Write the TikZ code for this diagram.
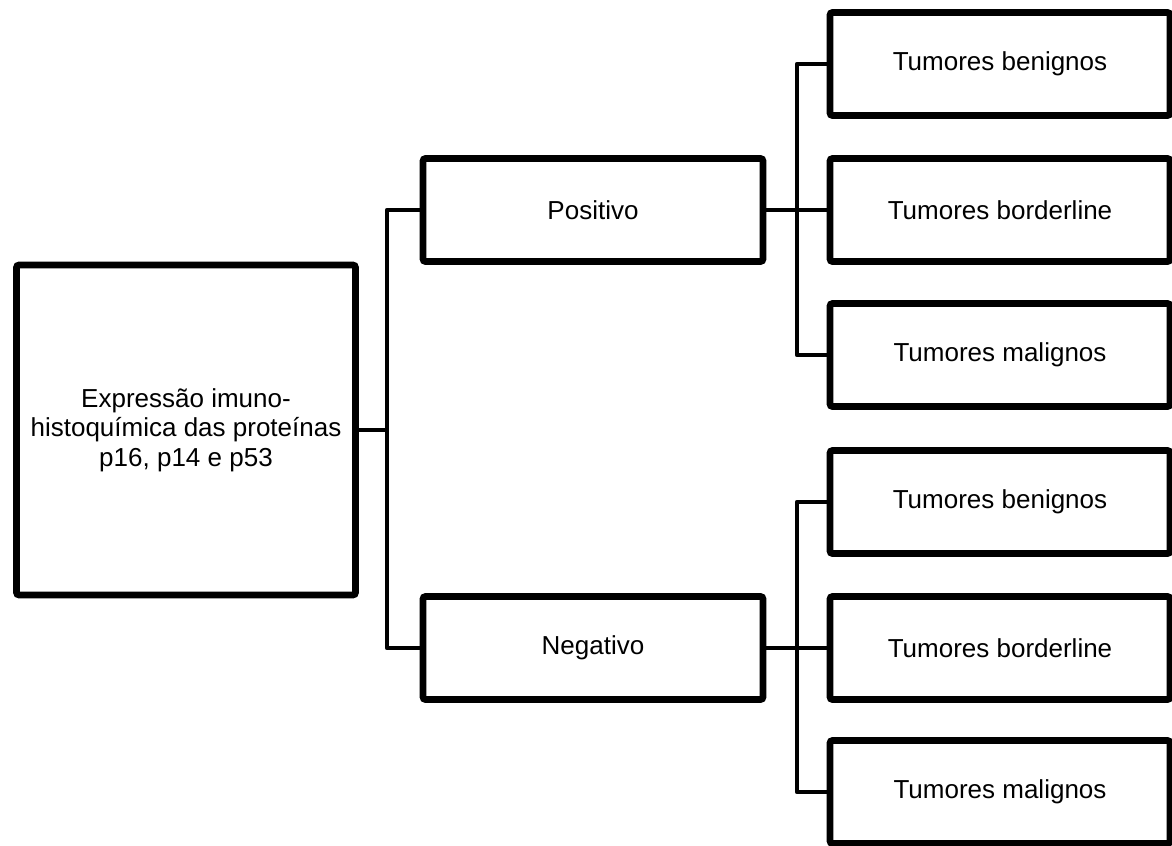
\documentclass[tikz,border=0pt]{standalone}
\usepackage{fontspec}
\setmainfont{Liberation Sans}
\usetikzlibrary{shadows}

\begin{document}
\begin{tikzpicture}[
		x=0.02cm, y=-0.02cm,
		box/.style={draw=black, line width=3.9pt, fill=white, rounded corners=1.5pt, align=center,
			font=\fontsize{14.8}{16.8}\selectfont, inner sep=2pt,
			drop shadow={shadow xshift=1.2pt, shadow yshift=-1.2pt, opacity=0.25, fill=black}},
		wide box/.style={box, minimum width=6.8cm, minimum height=2.06cm},
		link/.style={draw=black, line width=2.7pt, line join=round},
	]
	\useasboundingbox (0,0) rectangle (1172,845);
	% Root node
	\node[box, minimum width=6.78cm, minimum height=6.6cm] (root) at (186, 430) {Expressão imuno-\\histoquímica das proteínas\\p16, p14 e p53};
	% Result nodes
	\node[wide box] (positive) at (593, 210) {Positivo};
	\node[wide box] (negative) at (593, 648) {Negativo};
	% Tumour nodes
	\node[wide box] (pos benign) at (1000, 64) {Tumores benignos};
	\node[wide box] (pos border) at (1000, 210) {Tumores borderline};
	\node[wide box] (pos malign) at (1000, 355) {Tumores malignos};
	\node[wide box] (neg benign) at (1000, 502) {Tumores benignos};
	\node[wide box] (neg border) at (1000, 648) {Tumores borderline};
	\node[wide box] (neg malign) at (1000, 792) {Tumores malignos};
	% Forks
	\coordinate (root fork) at (387, 430);
	\coordinate (pos fork) at (797, 210);
	\coordinate (neg fork) at (797, 648);
	% Links
	\draw[link] (root.east) -- (root fork);
	\draw[link] (positive.west) -| (root fork) |- (negative.west);
	\draw[link] (positive.east) -- (pos border.west);
	\draw[link] (pos benign.west) -| (pos fork) |- (pos malign.west);
	\draw[link] (negative.east) -- (neg border.west);
	\draw[link] (neg benign.west) -| (neg fork) |- (neg malign.west);
\end{tikzpicture}
\end{document}
